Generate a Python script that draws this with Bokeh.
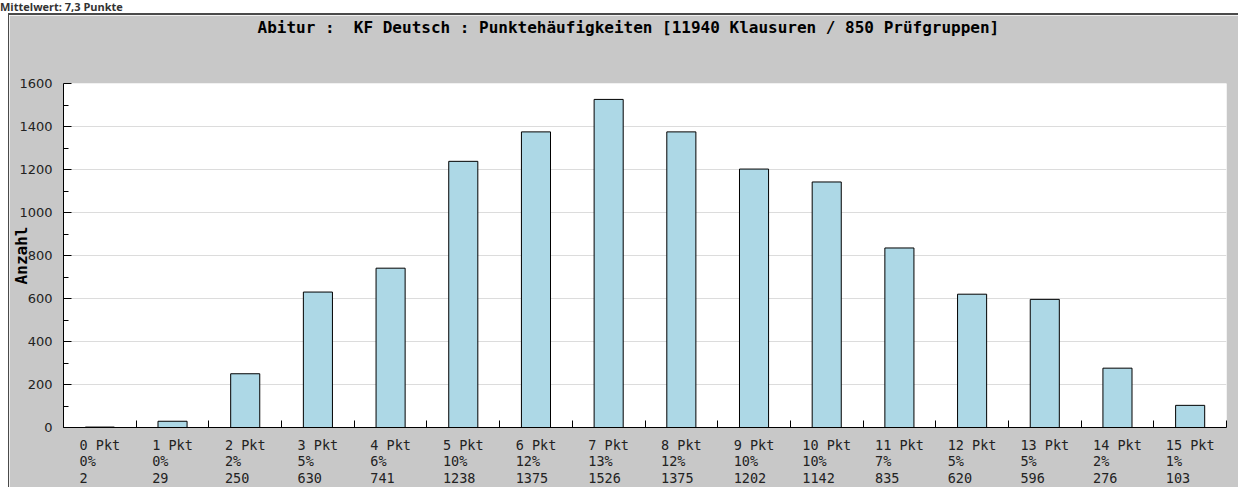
from bokeh.plotting import figure
from bokeh.models import Range1d, FixedTicker, Spacer, Div, Title
from bokeh.layouts import column, row
from bokeh.embed import file_html
from bokeh.resources import INLINE

# ---- data ----
categories = ["0 Pkt", "1 Pkt", "2 Pkt", "3 Pkt", "4 Pkt", "5 Pkt", "6 Pkt", "7 Pkt",
              "8 Pkt", "9 Pkt", "10 Pkt", "11 Pkt", "12 Pkt", "13 Pkt", "14 Pkt", "15 Pkt"]
percent_labels = ["0%", "0%", "2%", "5%", "6%", "10%", "12%", "13%",
                  "12%", "10%", "10%", "7%", "5%", "5%", "2%", "1%"]
counts = [2, 29, 250, 630, 741, 1238, 1375, 1526, 1375, 1202, 1142, 835, 620, 596, 276, 103]
y_ticks = [0, 200, 400, 600, 800, 1000, 1200, 1400, 1600]
y_minor_ticks = [100, 300, 500, 700, 900, 1100, 1300, 1500]
title_text = "Abitur :\u00a0\u00a0KF Deutsch : Punktehäufigkeiten [11940 Klausuren / 850 Prüfgruppen]"
y_axis_title = "Anzahl"
page_heading = "Mittelwert: 7,3 Punkte"

NB = "\u00a0"
xs = list(range(len(categories)))
boundaries = [i - 0.5 for i in range(len(categories) + 1)]

CANVAS_W, CANVAS_H = 1230, 474
MB_LEFT, MB_RIGHT, MB_TOP, MB_BOTTOM = 54, 13, 68, 62


def pad(s, w):
    return s + NB * (w - len(s))


labels = {}
for i in xs:
    lines = [categories[i], percent_labels[i], str(counts[i])]
    w = max(len(s) for s in lines)
    labels[i] = "\n".join(pad(s, w) for s in lines)

p = figure(width=CANVAS_W, height=CANVAS_H,
           x_range=Range1d(-0.5, len(categories) - 0.5),
           y_range=Range1d(y_ticks[0], y_ticks[-1]),
           output_backend="svg", toolbar_location=None,
           min_border_left=MB_LEFT, min_border_right=MB_RIGHT,
           min_border_top=MB_TOP, min_border_bottom=MB_BOTTOM,
           background_fill_color="white", border_fill_color="#c8c8c8",
           outline_line_color=None)

p.vbar(x=xs, top=counts, width=0.4, fill_color="#add8e6", line_color="black", line_width=1)

# titles: spacer nearest the frame, then the real title
p.title.text = ""
p.add_layout(Title(text=NB, text_font_size="1px", standoff=44), "above")
p.add_layout(Title(text=title_text, text_font="DejaVu Sans Mono", text_font_size="16px",
                   text_font_style="bold", text_color="black", align="left", offset=194,
                   standoff=0), "above")

# x axis
xa = p.xaxis[0]
xa.ticker = FixedTicker(ticks=xs, minor_ticks=boundaries)
xa.major_label_overrides = labels
xa.major_tick_line_color = None
xa.minor_tick_in = 7
xa.minor_tick_out = 0
xa.minor_tick_line_color = "black"
xa.axis_line_color = "black"
xa.major_label_standoff = 3
xa.major_label_text_font = "DejaVu Sans Mono"
xa.major_label_text_font_size = "13.5px"
xa.major_label_text_line_height = 1.05
xa.major_label_text_color = "#222222"

# y axis
ya = p.yaxis[0]
ya.ticker = FixedTicker(ticks=y_ticks, minor_ticks=y_minor_ticks)
ya.major_tick_in = 8
ya.major_tick_out = 0
ya.minor_tick_in = 5
ya.minor_tick_out = 0
ya.major_tick_line_color = "black"
ya.minor_tick_line_color = "black"
ya.axis_line_color = "black"
ya.major_label_standoff = 11
ya.major_label_text_font = "DejaVu Sans"
ya.major_label_text_font_size = "13px"
ya.major_label_text_color = "#222222"
ya.axis_label = y_axis_title
ya.axis_label_text_font = "DejaVu Sans Mono"
ya.axis_label_text_font_size = "16px"
ya.axis_label_text_font_style = "bold"
ya.axis_label_text_color = "black"
ya.axis_label_standoff = -15

p.xgrid.visible = False
p.ygrid.ticker = FixedTicker(ticks=y_ticks)
p.ygrid.grid_line_color = "#dcdcdc"

p.styles = {"border-top": "2px solid #4a4a4a", "border-left": "1px solid #4a4a4a"}

heading = Div(text=page_heading, width=1239, height=13, margin=0,
              styles={"font-family": "Open Sans", "font-weight": "bold", "font-size": "11px",
                      "line-height": "13px", "color": "#333333", "white-space": "nowrap"})

layout = column(heading, row(Spacer(width=8, height=CANVAS_H + 2), p))

open("out.html", "w").write(file_html(layout, INLINE))
